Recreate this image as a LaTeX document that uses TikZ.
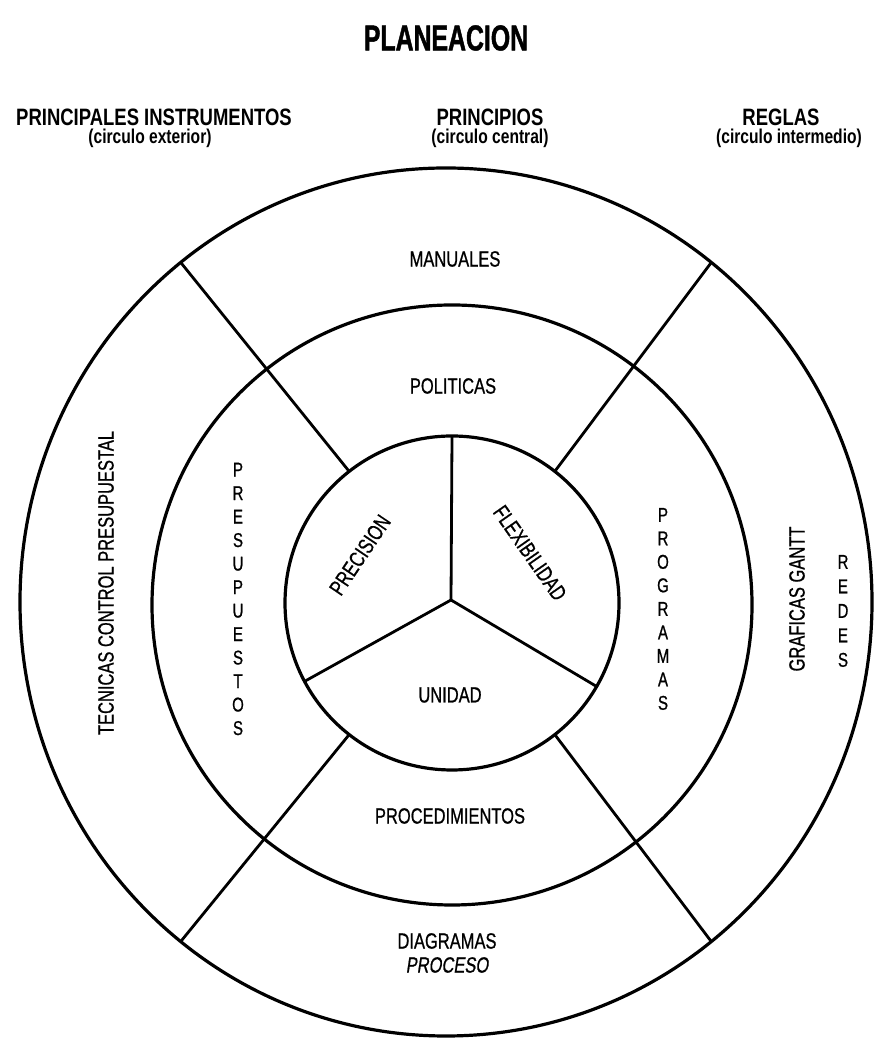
\documentclass[tikz,border=0pt]{standalone}
\usepackage{fontspec}
\setmainfont{Liberation Sans}
\newfontfamily\labfont[FakeStretch=0.75,FakeBold=0.8]{Liberation Sans}
\newfontfamily\headfont[FakeStretch=0.78]{Liberation Sans}
\newfontfamily\titlefont[FakeStretch=0.69,FakeBold=1.2]{Liberation Sans}
\newfontfamily\slantfont[FakeStretch=0.75,FakeSlant=0.15,FakeBold=0.8]{Liberation Sans}
\usetikzlibrary{shapes.geometric}

\begin{document}
\begin{tikzpicture}[x=1pt,y=1pt,
  ring/.style={draw, line width=3.2pt, inner sep=0pt, outer sep=0pt},
  divider/.style={line width=2.8pt},
  lab/.style={font=\labfont\fontsize{22}{24}\selectfont, inner sep=0pt},
  stack/.style={align=center, font=\labfont\fontsize{20}{23.5}\selectfont, inner sep=0pt},
  head/.style={font=\headfont\bfseries\fontsize{23.7}{26}\selectfont, inner sep=0pt},
  sub/.style={font=\headfont\bfseries\fontsize{20}{22}\selectfont, inner sep=0pt}]
\useasboundingbox (0,0) rectangle (877,1040);

% headings
\node[font=\titlefont\bfseries\fontsize{36}{40}\selectfont, inner sep=0pt] (title) at (446,1002) {PLANEACION};
\node[head] (hinst) at (154,923) {PRINCIPALES INSTRUMENTOS};
\node[sub]  (sinst) at (150,902) {(circulo exterior)};
\node[head] (hprin) at (490,923) {PRINCIPIOS};
\node[sub]  (sprin) at (490,902) {(circulo central)};
\node[head] (hregl) at (781,923) {REGLAS};
\node[sub]  (sregl) at (789,902) {(circulo intermedio)};

% the three rings
\node[ring, ellipse, minimum width=852, minimum height=868] (outer) at (446,438) {};
\node[ring, circle, minimum size=600] (middle) at (452,435) {};
\node[ring, circle, minimum size=334] (inner) at (452,437) {};
\coordinate (hub) at (451,440);

% spokes of the central circle
\draw[divider] (hub) -- (inner.90);
\draw[divider] (hub) -- (inner.208);
\draw[divider] (hub) -- (inner.330);

% dividers across the two outer rings
\foreach \a in {52,128,232,308}
  \draw[divider] (inner.\a) -- (outer.\a);

% central circle: principles
\node[lab, rotate=56]  (precision) at (360,485) {PRECISION};
\node[lab, rotate=-55] (flex)      at (530,487) {FLEXIBILIDAD};
\node[lab]             (unidad)    at (450,345) {UNIDAD};

% intermediate ring: rules
\node[lab]   (politicas) at (453,654) {POLITICAS};
\node[lab]   (proced)    at (450,224) {PROCEDIMIENTOS};
\node[stack] (presup)    at (238,441) {P\\R\\E\\S\\U\\P\\U\\E\\S\\T\\O\\S};
\node[stack] (programas) at (663,431) {P\\R\\O\\G\\R\\A\\M\\A\\S};

% outer ring: instruments
\node[lab]              (manuales) at (455,781) {MANUALES};
\node[lab]              (diag)     at (447,99)  {DIAGRAMAS};
\node[font=\slantfont\fontsize{22}{24}\selectfont, inner sep=0pt] (proceso) at (447,75) {PROCESO};
\node[lab, rotate=90]   (tecnicas) at (106,457) {TECNICAS CONTROL PRESUPUESTAL};
\node[lab, rotate=90]   (gantt)    at (797,441) {GRAFICAS GANTT};
\node[stack, font=\labfont\fontsize{20}{24.5}\selectfont] (redes) at (843,429) {R\\E\\D\\E\\S};
\end{tikzpicture}
\end{document}
